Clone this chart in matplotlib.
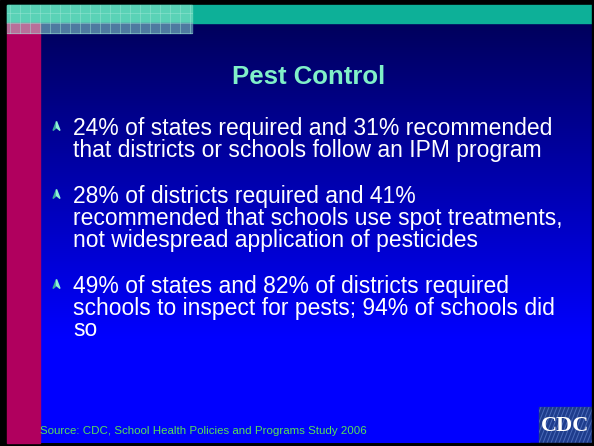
import numpy as np
import matplotlib.pyplot as plt
from matplotlib.patches import Rectangle, Polygon

W, H = 594, 446

title = "Pest Control"
bullets = [
    ["24% of states required and 31% recommended",
     "that districts or schools follow an IPM program"],
    ["28% of districts required and 41%",
     "recommended that schools use spot treatments,",
     "not widespread application of pesticides"],
    ["49% of states and 82% of districts required",
     "schools to inspect for pests; 94% of schools did",
     "so"],
]
source = "Source: CDC, School Health Policies and Programs Study 2006"

plt.rcParams['font.family'] = ['Liberation Sans', 'DejaVu Sans']

fig = plt.figure(figsize=(W / 100, H / 100), dpi=100)
ax = fig.add_axes([0, 0, 1, 1])
ax.set_xlim(0, W)
ax.set_ylim(H, 0)
ax.axis('off')

# black frame
ax.add_patch(Rectangle((0, 0), W, H, color='black', zorder=0))

# background gradient, dark navy to bright blue
ys = np.linspace(0, 1, 400)
blue = np.clip(92 + (255 - 92) * ys / 0.75, 0, 255) / 255
grad = np.zeros((400, 1, 3))
grad[:, 0, 2] = blue
ax.imshow(grad, extent=(7, 592, 443, 23), aspect='auto', zorder=1)

# top teal band
ax.add_patch(Rectangle((7, 5), 585, 18, color='#0db098', zorder=2))
# left crimson strip
ax.add_patch(Rectangle((7, 33), 33, 410, color='#b0005e', zorder=2))

# checkered corner
ax.add_patch(Rectangle((7, 5), 185, 18, color='#5ad2b6', zorder=3))
ax.add_patch(Rectangle((40, 23), 152, 10, color='#4e7aa0', zorder=3))
ax.add_patch(Rectangle((7, 23), 33, 10, color='#b8709a', zorder=3))
for gx in range(10, 193, 10):
    ax.plot([gx, gx], [5, 33], color='#a0e8d8', lw=0.7, alpha=0.45, zorder=4)
for gy in (13, 23, 33):
    ax.plot([7, 192], [gy, gy], color='#a0e8d8', lw=0.7, alpha=0.45, zorder=4)

# title
ax.text(309, 77, title, color='#80f0c8', fontsize=18.5, fontweight='bold',
        ha='center', va='center', zorder=5)

# bullets
y = 128
for item in bullets:
    bx, by = 56.5, y - 2
    ax.add_patch(Polygon([(bx - 3.5, by + 4.5), (bx, by - 4.5), (bx, by + 1.5)],
                         closed=True, color='#3aa8a0', zorder=5))
    ax.add_patch(Polygon([(bx, by - 4.5), (bx + 3.5, by + 4.5), (bx, by + 1.5)],
                         closed=True, color='#8ff0d8', zorder=5))
    for line in item:
        ax.text(73, y, line, color='white', fontsize=16.5, ha='left', va='center', zorder=5)
        y += 22
    y += 24

# source
ax.text(40, 431, source, color='#58e058', fontsize=8.25, ha='left', va='center', zorder=5)

# CDC logo
logo = Rectangle((539, 407), 53, 36, color='#1e3c8c', zorder=5)
ax.add_patch(logo)
for dx in range(-20, 60, 4):
    ln, = ax.plot([539 + dx, 539 + dx + 14], [443, 407], color='#4a6ab8', lw=0.7, zorder=6)
    ln.set_clip_path(logo)
ax.text(565.5, 426, "CDC", color='white', fontsize=16, fontweight='bold',
        family='Liberation Serif', ha='center', va='center', zorder=8)
ax.add_patch(Rectangle((592, 0), 2, H, color='black', zorder=9))
ax.add_patch(Rectangle((530, 443), 64, 3, color='black', zorder=9))

fig.savefig('out.png', dpi=100)
